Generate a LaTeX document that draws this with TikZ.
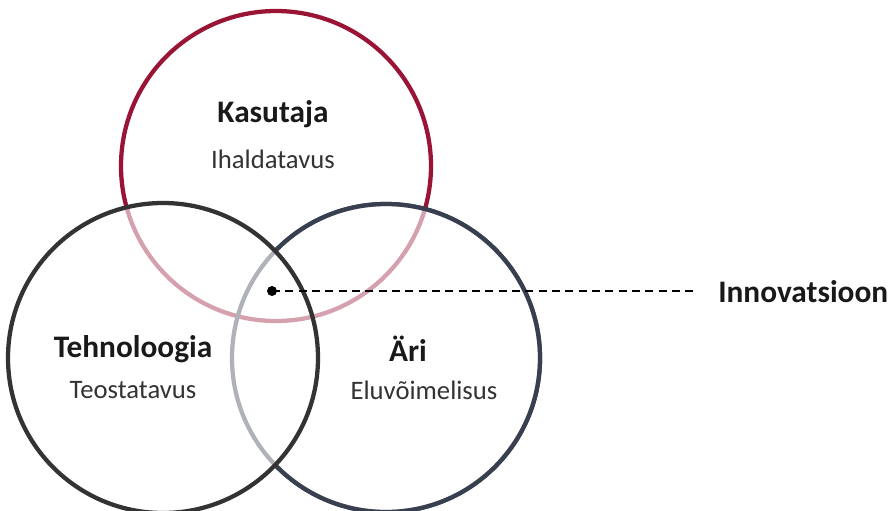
\documentclass[tikz,border=0pt]{standalone}
\usepackage{fontspec}
\setmainfont{Carlito}
\definecolor{kasred}{HTML}{9A1436}
\definecolor{tehgray}{HTML}{333333}
\definecolor{ariblue}{HTML}{38404F}
\tikzset{
  ring/.style={line width=3.2pt},
  veil/.style={fill=white, fill opacity=0.6},
  title/.style={font=\bfseries\fontsize{23.5}{26}\selectfont, text=black!90},
  sub/.style={font=\fontsize{20}{23}\selectfont, text=black!80},
}
\begin{document}
\begin{tikzpicture}[x=0.75pt,y=-0.75pt]
  \useasboundingbox (0,0) rectangle (890,511);
  % Kasutaja and Äri circles
  \draw[ring, draw=kasred] (276,166) circle[radius=155];
  \draw[ring, draw=ariblue] (386,358) circle[radius=154];
  % one white veil over the union of the two lower circles
  \fill[veil] (163,358) circle[radius=155] (386,358) circle[radius=154];
  % Äri circle redrawn at full strength outside the Tehnoloogia circle
  \begin{scope}[even odd rule]
    \clip (-10,-10) rectangle (900,530) (163,358) circle[radius=155];
    \draw[ring, draw=ariblue] (386,358) circle[radius=154];
  \end{scope}
  % Tehnoloogia circle on top
  \draw[ring, draw=tehgray] (163,358) circle[radius=155];

  \node[title] (kas) at (273,114) {Kasutaja};
  \node[sub]   (iha) at (273,159) {Ihaldatavus};
  \node[title] (teh) at (133,349) {Tehnoloogia};
  \node[sub]   (teo) at (133,390) {Teostatavus};
  \node[title] (ari) at (408,349) {Äri};
  \node[sub]   (elu) at (424,390) {Eluvõimelisus};

  \node[title, anchor=west, inner sep=0pt] (inn) at (718,292) {Innovatsioon};
  \fill[black] (272,291) circle[radius=5] coordinate (dot);
  \coordinate (dashend) at (696,291);
  \draw[line width=1pt, dashed, dash pattern=on 6pt off 4pt] (dot) -- (dashend);
\end{tikzpicture}
\end{document}
